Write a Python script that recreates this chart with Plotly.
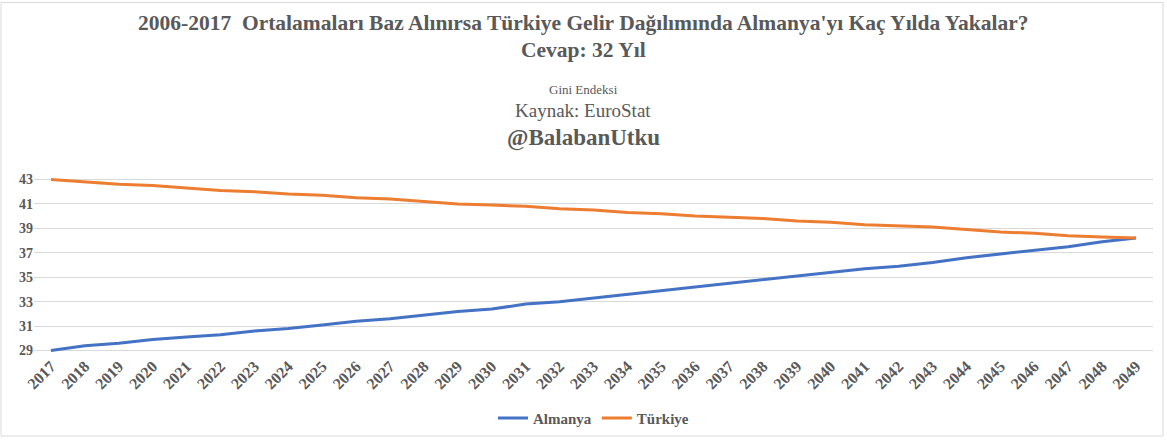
import plotly.graph_objects as go

years = [str(y) for y in range(2017, 2050)]
almanya = [29.0, 29.4, 29.6, 29.9, 30.1, 30.3, 30.6, 30.8, 31.1, 31.4, 31.6, 31.9,
           32.2, 32.4, 32.8, 33.0, 33.3, 33.6, 33.9, 34.2, 34.5, 34.8, 35.1, 35.4,
           35.7, 35.9, 36.2, 36.6, 36.9, 37.2, 37.5, 37.9, 38.2]
turkiye = [43.0, 42.8, 42.6, 42.5, 42.3, 42.1, 42.0, 41.8, 41.7, 41.5, 41.4, 41.2,
           41.0, 40.9, 40.8, 40.6, 40.5, 40.3, 40.2, 40.0, 39.9, 39.8, 39.6, 39.5,
           39.3, 39.2, 39.1, 38.9, 38.7, 38.6, 38.4, 38.3, 38.2]
y_ticks = [29, 31, 33, 35, 37, 39, 41, 43]

W, H = 1167, 440
ML, MR, MT, MB = 34, 14, 176.5, 86.5
PH = H - MT - MB
PW = W - ML - MR

def py(p):
    return (H - MB - p) / PH

def px(p):
    return (p - ML) / PW

FONT = "Liberation Serif"
GREY = "#595959"

fig = go.Figure()
fig.add_trace(go.Scatter(x=years, y=almanya, mode="lines", name="Almanya",
                         line=dict(color="#4472C4", width=3)))
fig.add_trace(go.Scatter(x=years, y=turkiye, mode="lines", name="Türkiye",
                         line=dict(color="#ED7D31", width=3)))

annots = [
    dict(text="<b>2006-2017  Ortalamaları Baz Alınırsa Türkiye Gelir Dağılımında Almanya'yı Kaç Yılda Yakalar?</b>",
         y=py(22), size=21.5),
    dict(text="<b>Cevap: 32 Yıl</b>", y=py(49), size=21.5),
    dict(text="Gini Endeksi", y=py(88), size=13),
    dict(text="Kaynak: EuroStat", y=py(110), size=19),
    dict(text="<b>@BalabanUtku</b>", y=py(137), size=23),
]
fig.update_layout(
    annotations=[dict(text=a["text"], x=px(583), y=a["y"], xref="paper", yref="paper",
                      xanchor="center", yanchor="middle", showarrow=False,
                      font=dict(family=FONT, size=a["size"], color=GREY)) for a in annots],
    shapes=[dict(type="rect", xref="paper", yref="paper",
                 x0=px(1), x1=px(1163), y0=py(437), y1=py(1),
                 line=dict(color="#d9d9d9", width=1), fillcolor="rgba(0,0,0,0)", layer="below")],
    width=W, height=H,
    margin=dict(l=ML, r=MR, t=MT, b=MB, autoexpand=False),
    paper_bgcolor="white", plot_bgcolor="white",
    showlegend=True,
    legend=dict(orientation="h", x=0.5, xanchor="center", y=py(419), yanchor="middle",
                font=dict(family=FONT, size=15, color=GREY, weight="bold"),
                itemwidth=30),
    xaxis=dict(type="category", range=[-0.5, 32.5], showgrid=False, showline=False,
               ticks="", tickangle=-45, automargin=False,
               tickfont=dict(family=FONT, size=16, color=GREY, weight="bold")),
    yaxis=dict(range=[28.8, 43.2], tickvals=y_ticks, showgrid=True, gridcolor="#d9d9d9",
               gridwidth=1, zeroline=False, showline=False, ticks="", automargin=False,
               tickfont=dict(family=FONT, size=14, color=GREY, weight="bold")),
)

fig.write_html("out.html", config={"displayModeBar": False},
               post_script="document.body.style.margin='0';document.body.style.overflow='hidden';")
